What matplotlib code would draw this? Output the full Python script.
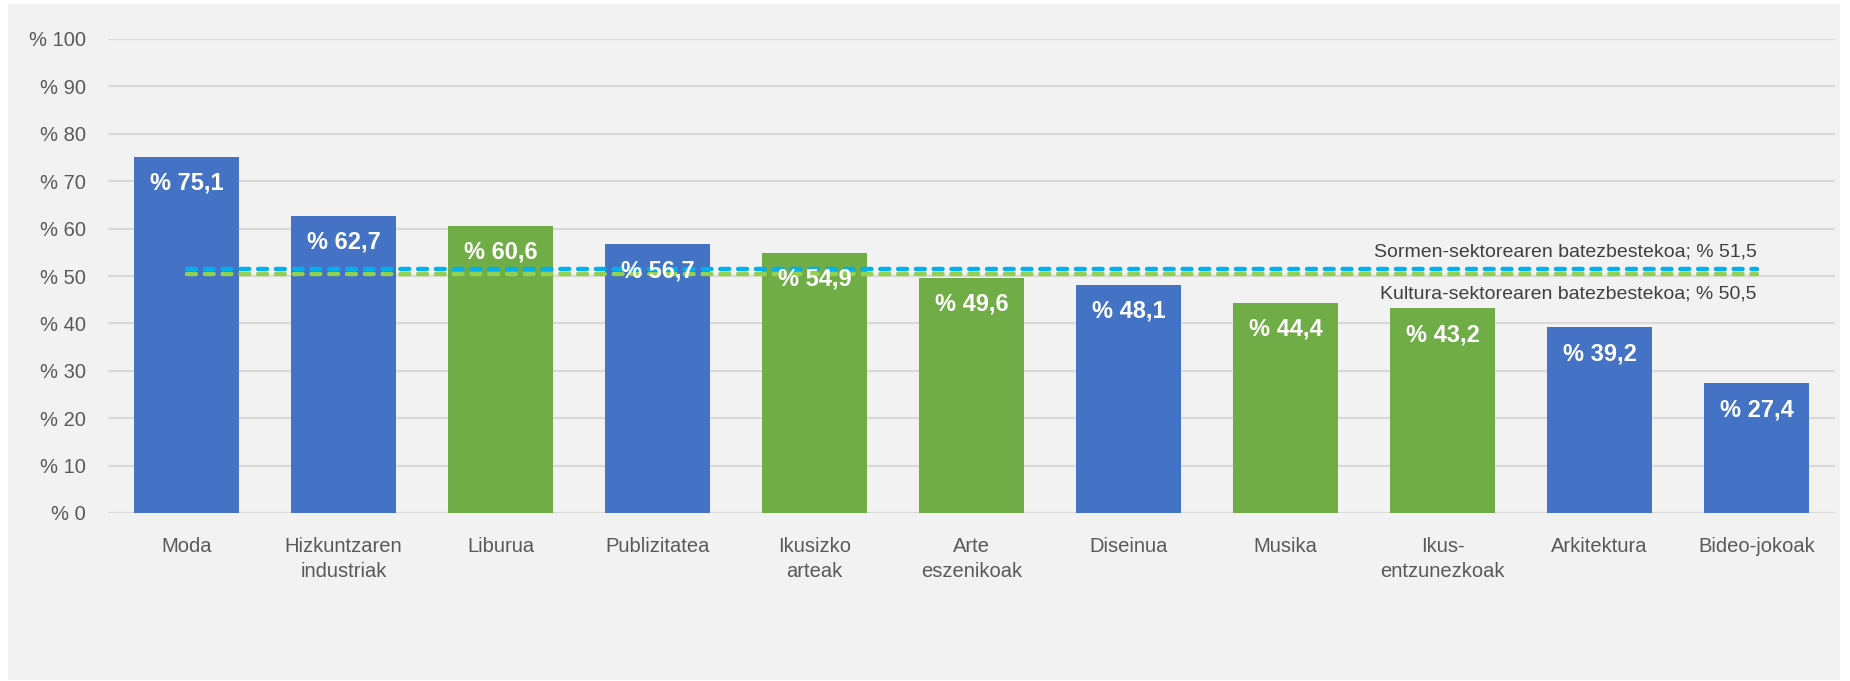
import numpy as np
import matplotlib.pyplot as plt
from matplotlib.patches import Rectangle

categories = ['Moda', 'Hizkuntzaren\nindustriak', 'Liburua', 'Publizitatea', 'Ikusizko\narteak',
              'Arte\neszenikoak', 'Diseinua', 'Musika', 'Ikus-\nentzunezkoak', 'Arkitektura', 'Bideo-jokoak']
values = [75.1, 62.7, 60.6, 56.7, 54.9, 49.6, 48.1, 44.4, 43.2, 39.2, 27.4]
sector = ['sormen', 'sormen', 'kultura', 'sormen', 'kultura', 'kultura',
          'sormen', 'kultura', 'kultura', 'sormen', 'sormen']
avg_sormen = 51.5
avg_kultura = 50.5
yticks = list(range(0, 101, 10))

BLUE = '#4472c4'
GREEN = '#70ad47'
sans = ['Liberation Sans', 'DejaVu Sans']

def fmt(v):
    return '% ' + ('%.1f' % v).replace('.', ',')

fig = plt.figure(figsize=(18.5, 6.81), dpi=100)
fig.patch.set_facecolor('white')
fig.patches.append(Rectangle((8/1850, 1/681), 1832/1850, 676/681, transform=fig.transFigure,
                             facecolor='#f2f2f2', edgecolor='none', zorder=-10))

ax = fig.add_axes([108/1850, 1-513/681, 1727/1850, (513-39)/681])
ax.set_facecolor('none')

x = np.arange(len(categories))
colors = [BLUE if s == 'sormen' else GREEN for s in sector]
ax.bar(x, values, width=0.67, color=colors, zorder=2)

for xi, v in zip(x, values):
    ax.annotate(fmt(v), (xi, v), xytext=(0, -19), textcoords='offset points',
                ha='center', va='center', color='white', fontsize=17, fontweight='bold',
                family=sans, zorder=4)

ax.plot([x[0], x[-1]], [avg_kultura]*2, color='#92d050', lw=3.2, ls=(0, (2.0, 2.0)),
        dash_capstyle='round', zorder=3)
ax.plot([x[0], x[-1]], [avg_sormen]*2, color='#00b0f0', lw=3.2, ls=(0, (2.0, 2.0)),
        dash_capstyle='round', zorder=3)
ax.text(x[-1], avg_sormen + 1.8, 'Sormen-sektorearen batezbestekoa; ' + fmt(avg_sormen),
        ha='right', va='bottom', fontsize=14, color='#404040', family=sans)
ax.text(x[-1], avg_kultura - 2.4, 'Kultura-sektorearen batezbestekoa; ' + fmt(avg_kultura),
        ha='right', va='top', fontsize=14, color='#404040', family=sans)

ax.set_xlim(-0.5, len(categories) - 0.5)
ax.set_ylim(0, 100)
ax.set_yticks(yticks)
ax.set_yticklabels(['% ' + str(t) for t in yticks], family=sans, fontsize=14.5, color='#595959')
ax.set_xticks(x)
ax.set_xticklabels(categories, family=sans, fontsize=14.5, color='#595959', linespacing=1.4)
ax.tick_params(axis='both', length=0)
ax.tick_params(axis='y', pad=16)
ax.tick_params(axis='x', pad=17)
ax.grid(axis='y', color='#d9d9d9', lw=1.5, zorder=1)
ax.set_axisbelow(True)
for s in ax.spines.values():
    s.set_visible(False)

fig.savefig('out.png', dpi=100, facecolor=fig.get_facecolor())
